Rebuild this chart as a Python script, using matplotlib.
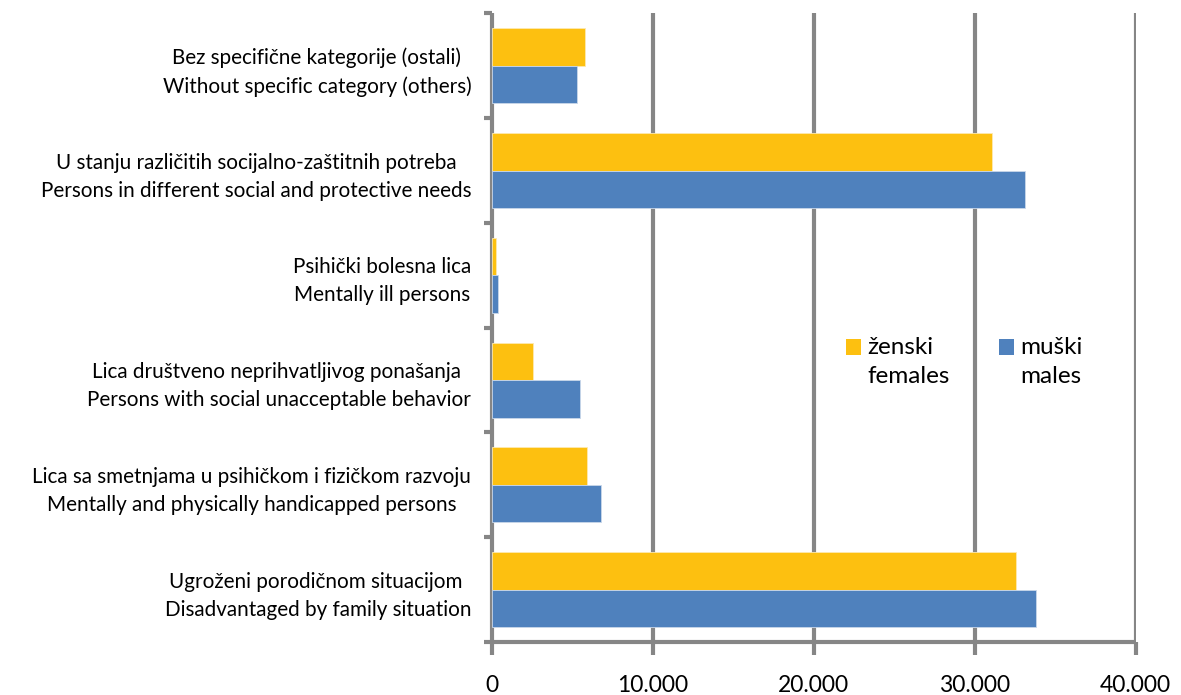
import matplotlib
matplotlib.use("Agg")
import matplotlib.pyplot as plt
from matplotlib.patches import Patch, Rectangle
from matplotlib.legend_handler import HandlerPatch
from matplotlib.ticker import FuncFormatter, FixedLocator
import numpy as np

categories = [
    "Bez specifične kategorije (ostali)\nWithout specific category (others)",
    "U stanju različitih socijalno-zaštitnih potreba\nPersons in different social and protective needs",
    "Psihički bolesna lica\nMentally ill persons",
    "Lica društveno neprihvatljivog ponašanja \nPersons with social unacceptable behavior",
    "Lica sa smetnjama u psihičkom i fizičkom razvoju\nMentally and physically handicapped persons",
    "Ugroženi porodičnom situacijom \nDisadvantaged by family situation",
]
females = [5750, 31100, 230, 2550, 5900, 32550]
males = [5300, 33100, 360, 5450, 6800, 33800]
series_labels = ["ženski\nfemales", "muški\nmales"]
x_ticks = [0, 10000, 20000, 30000, 40000]

YELLOW = "#FDC010"
BLUE = "#4F81BD"
GREY = "#868686"

plt.rcParams["font.family"] = ["Lato", "DejaVu Sans"]

fig = plt.figure(figsize=(11.81, 6.95), dpi=100)
ax = fig.add_axes([0.4166, 0.0763, 0.9616 - 0.4166, 0.9806 - 0.0763])

y = np.arange(len(categories))
h = 0.358
ax.barh(y - h / 2, females, height=h, color=YELLOW, edgecolor="#fde9b0", linewidth=0.6, zorder=3, label=series_labels[0])
ax.barh(y + h / 2, males, height=h, color=BLUE, edgecolor="#c9d7ea", linewidth=0.6, zorder=3, label=series_labels[1])

ax.set_xlim(0, 40000)
ax.set_ylim(len(categories) - 0.5, -0.5)

for xv in x_ticks[1:]:
    ax.axvline(xv, color=GREY, lw=3, zorder=1)

ax.xaxis.set_major_locator(FixedLocator(x_ticks))
ax.xaxis.set_major_formatter(FuncFormatter(lambda v, p: f"{int(v):,}".replace(",", ".")))
ax.tick_params(axis="x", length=9, width=3, color=GREY, labelsize=16.5, pad=14.5)

ax.yaxis.set_major_locator(FixedLocator(np.arange(-0.5, len(categories), 1.0)))
ax.yaxis.set_major_formatter(FuncFormatter(lambda v, p: ""))
ax.yaxis.set_minor_locator(FixedLocator(y))
ax.set_yticklabels(categories, minor=True, ha="right", multialignment="center", fontsize=14.9, linespacing=1.5)
ax.tick_params(axis="y", which="major", length=6, width=3, color=GREY)
ax.tick_params(axis="y", which="minor", length=0, pad=15)

for s in ["top", "right"]:
    ax.spines[s].set_visible(False)
for s in ["left", "bottom"]:
    ax.spines[s].set_color(GREY)
    ax.spines[s].set_linewidth(3)
    ax.spines[s].set_capstyle("butt")

SHIFT = 11.0


def top_square(legend, orig_handle, xdescent, ydescent, width, height, fontsize):
    return Rectangle((-xdescent, -ydescent + SHIFT), width, height)


handles = [Patch(facecolor=YELLOW), Patch(facecolor=BLUE)]
leg = ax.legend(handles, series_labels, ncol=2, frameon=False, fontsize=17.5,
                loc="center", bbox_to_anchor=(0.734, 0.4455), handlelength=0.62, handleheight=0.62,
                handletextpad=0.25, columnspacing=2.05, labelspacing=0.2,
                handler_map={Patch: HandlerPatch(patch_func=top_square)})
for t in leg.get_texts():
    t.set_linespacing(1.45)

fig.savefig("out.png", dpi=100)
